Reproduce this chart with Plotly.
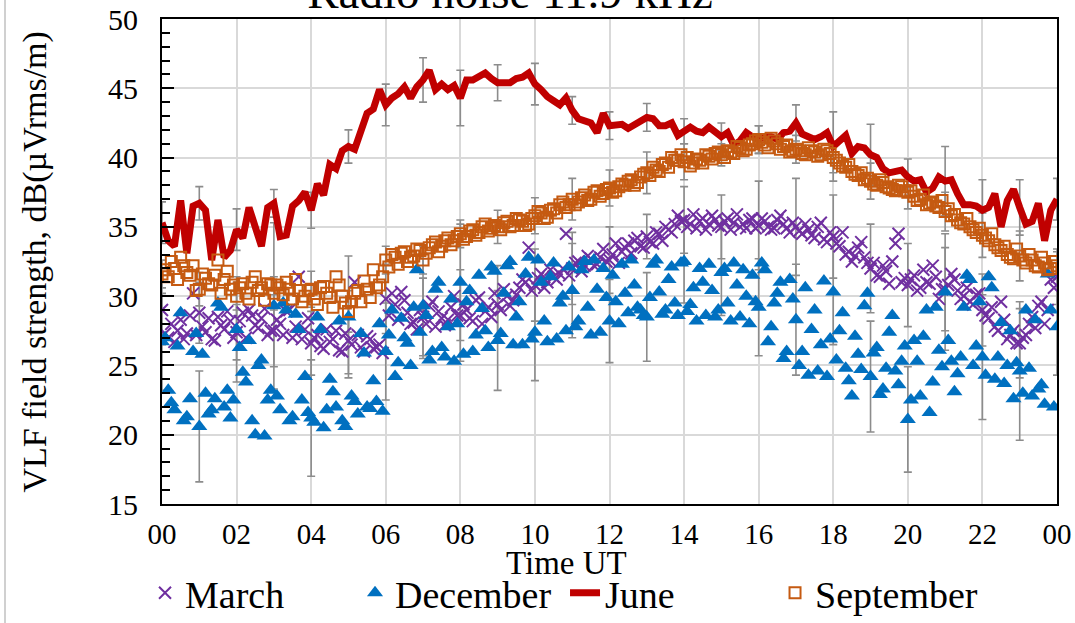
import plotly.graph_objects as go

# Time axis (hours UT). Main samples every 10 min; marker series also have
# readings at the 5-minute offsets in between.
time_min = list(range(0, 1441, 10))
time_h = [m / 60 for m in time_min]
offset_min = list(range(5, 1440, 10))
offset_h = [m / 60 for m in offset_min]

march = [29.0, 27.0, 26.7, 28.3, 27.3, 30.2, 28.8, 27.4, 26.9, 28.5, 27.6, 28.2,
         27.4, 28.8, 29.0, 27.9, 28.4, 27.2, 27.5, 28.0, 28.9, 27.0, 31.4, 27.6,
         26.6, 27.2, 26.2, 26.7, 27.5, 26.0, 26.8, 31.0, 26.3, 27.1, 26.2, 26.5,
         29.8, 30.2, 28.3, 29.7, 28.0, 27.6, 28.5, 29.3, 27.8, 28.4, 28.3, 30.0,
         28.6, 29.0, 28.2, 29.9, 28.9, 28.5, 29.4, 30.5, 29.3, 30.1, 31.2, 33.5,
         30.8, 31.6, 31.0, 31.4, 31.6, 34.5, 32.0, 32.5, 32.2, 32.7, 32.3, 33.4,
         32.6, 33.8, 33.2, 33.8, 34.0, 33.6, 34.3, 33.8, 34.5, 35.0, 34.6, 35.8,
         35.5, 35.2, 34.9, 35.6, 35.2, 35.5, 35.0, 35.6, 35.3, 35.0, 34.9, 35.6,
         35.1, 35.4, 34.8, 35.5, 35.2, 34.6, 35.0, 34.5, 34.8, 34.2, 35.3, 33.9,
         34.3, 33.6, 33.0, 32.5, 33.5, 32.8, 32.0, 31.5, 32.2, 30.9, 33.8, 31.0,
         30.8, 31.5, 30.6, 31.0, 32.2, 29.8, 30.5, 31.6, 30.4, 30.0, 29.6, 30.1,
         29.0, 28.4, 27.8, 29.6, 26.9, 27.5, 26.6, 27.2, 28.5, 29.3, 28.0, 31.2,
         31.4]
march_offset = [27.3, 28.0, 27.5, 26.9, 28.6, 27.2, 27.8, 28.4, 26.8, 27.9, 28.9, 27.0,
                28.2, 27.0, 28.6, 27.7, 29.1, 27.5, 28.3, 27.2, 29.0, 27.8, 26.9, 28.4,
                27.0, 26.4, 27.6, 26.9, 26.1, 27.3, 26.5, 27.2, 26.0, 26.9, 26.3, 25.9,
                28.6, 29.4, 30.3, 28.8, 28.1, 29.0, 28.0, 29.6, 28.9, 27.9, 29.2, 28.6,
                29.4, 28.4, 29.7, 28.0, 29.2, 30.2, 29.0, 30.0, 29.7, 30.6, 31.0, 30.4,
                31.3, 30.6, 31.9, 31.2, 32.0, 31.5, 32.4, 31.8, 32.9, 32.2, 32.8, 32.5,
                33.0, 32.4, 33.5, 33.1, 34.2, 33.5, 33.9, 34.6, 34.0, 34.8, 35.2, 35.4,
                35.0, 35.9, 35.4, 34.8, 35.8, 35.1, 35.4, 34.8, 35.9, 35.2, 35.5, 34.9,
                35.6, 35.0, 34.9, 35.8, 34.9, 35.3, 34.7, 35.2, 34.4, 35.0, 34.1, 34.6,
                33.8, 34.6, 33.2, 32.9, 33.9, 32.4, 32.4, 31.4, 31.8, 32.5, 34.5, 31.3,
                31.2, 30.4, 31.9, 30.9, 31.4, 30.5, 30.8, 31.2, 29.8, 30.6, 29.4, 30.2,
                28.6, 29.2, 27.5, 28.3, 27.2, 26.6, 27.0, 28.0, 27.7, 29.6, 29.0, 30.6]

december = [26.7, 23.2, 21.8, 28.8, 21.3, 26.0, 20.6, 23.0, 21.8, 29.5, 22.0, 21.2,
            27.6, 24.5, 26.8, 20.0, 25.4, 22.5, 29.3, 21.8, 29.0, 21.3, 27.6, 24.2,
            21.2, 28.5, 20.5, 24.0, 22.0, 21.0, 28.5, 22.4, 27.3, 22.0, 23.9, 28.0,
            26.0, 29.0, 25.2, 27.0, 25.0, 31.9, 29.3, 25.4, 30.5, 26.3, 27.8, 25.3,
            31.0, 29.6, 26.0, 31.5, 27.5, 32.1, 26.8, 30.2, 32.5, 28.5, 26.5, 32.8,
            27.4, 31.0, 26.7, 32.4, 29.5, 27.5, 30.4, 28.2, 32.5, 27.2, 30.5, 32.0,
            28.2, 29.6, 32.3, 28.8, 30.8, 29.0, 28.5, 32.3, 30.3, 29.0, 32.1, 28.6,
            32.5, 29.4, 28.2, 31.0, 32.3, 28.5, 31.7, 29.5, 32.4, 28.5, 30.0, 31.5,
            29.2, 31.9, 27.8, 30.2, 25.5, 31.2, 28.3, 26.0, 24.3, 29.0, 26.5, 24.2,
            30.3, 27.5, 24.8, 22.8, 25.8, 29.3, 24.2, 26.3, 23.3, 27.4, 24.6, 25.3,
            21.1, 26.8, 22.8, 29.0, 23.8, 26.1, 30.3, 25.3, 24.4, 29.2, 31.2, 26.4,
            25.6, 31.4, 24.0, 28.1, 25.0, 22.6, 24.6, 29.0, 22.8, 23.3, 22.2, 29.0,
            27.8]
december_offset = [27.0, 22.3, 26.4, 21.0, 22.6, 27.3, 25.8, 21.5, 22.6, 29.2, 23.2, 22.5,
                   26.3, 23.8, 21.0, 25.0, 19.9, 23.2, 22.8, 29.5, 21.0, 28.7, 22.5, 21.6,
                   20.9, 27.6, 21.8, 23.1, 28.2, 20.6, 22.8, 21.5, 25.9, 21.9, 22.4, 21.7,
                   27.2, 24.2, 28.4, 26.6, 29.2, 27.4, 28.6, 26.0, 31.0, 25.6, 29.8, 28.0,
                   25.8, 30.4, 27.2, 29.1, 26.3, 31.8, 27.3, 32.2, 26.5, 29.6, 31.6, 26.9,
                   32.6, 28.2, 31.4, 26.9, 30.0, 32.1, 27.8, 31.9, 29.2, 32.6, 27.4, 29.9,
                   31.5, 28.0, 30.2, 32.6, 29.2, 28.6, 29.9, 32.6, 28.7, 31.2, 29.5, 32.4,
                   28.9, 30.6, 32.0, 28.6, 30.4, 29.0, 32.0, 28.2, 30.8, 31.9, 28.0, 29.6,
                   32.4, 26.7, 29.5, 31.0, 26.0, 29.8, 25.0, 30.6, 27.6, 24.6, 31.1, 26.9,
                   25.4, 28.8, 23.9, 27.1, 24.7, 30.2, 25.9, 22.9, 24.8, 28.6, 23.6, 26.4,
                   22.5, 25.3, 27.1, 21.6, 29.2, 24.9, 26.8, 23.1, 25.6, 31.5, 25.0, 29.6,
                   24.3, 30.6, 25.6, 23.7, 27.5, 25.2, 23.0, 24.8, 28.3, 23.6, 31.6, 22.0]

june = [35.3, 34.0, 33.6, 36.9, 33.1, 36.5, 36.7, 36.2, 32.6, 35.5, 32.8, 33.3,
        34.8, 34.2, 36.4, 34.8, 33.6, 36.4, 36.7, 34.3, 34.4, 36.5, 36.9, 37.5,
        36.2, 38.1, 37.3, 39.5, 39.2, 40.5, 40.8, 40.6, 42.0, 43.2, 43.5, 44.9,
        43.8, 44.3, 44.6, 45.1, 44.3, 45.1, 45.6, 46.3, 44.9, 45.3, 44.9, 45.2,
        44.3, 45.6, 45.6, 45.8, 46.1, 45.7, 45.4, 45.4, 45.4, 45.7, 45.8, 46.1,
        45.3, 44.9, 44.4, 44.1, 43.8, 44.3, 43.4, 42.8, 42.7, 42.5, 41.8, 43.2,
        42.3, 42.3, 42.4, 42.1, 42.4, 42.7, 42.9, 42.8, 42.3, 42.3, 42.5, 41.6,
        41.9, 42.2, 41.9, 41.8, 42.2, 41.9, 41.5, 41.8, 40.9, 41.2, 41.8, 41.5,
        41.3, 41.5, 41.5, 41.3, 41.8, 41.9, 42.5, 41.7, 41.5, 41.3, 41.5, 41.8,
        40.8, 41.2, 41.6, 40.3, 40.8, 40.7, 40.2, 40.0, 39.2, 38.9, 39.0, 39.1,
        38.6, 38.3, 38.4, 37.5, 37.8, 38.6, 38.3, 38.4, 37.4, 36.6, 36.6, 36.5,
        36.2, 36.4, 37.4, 35.0, 36.9, 37.7, 36.4, 35.2, 35.4, 36.7, 34.0, 36.2,
        37.0]

september = [31.6, 31.4, 32.0, 32.8, 31.7, 32.2, 30.5, 31.3, 30.8, 32.6, 31.2, 30.5,
             30.0, 30.9, 29.8, 31.4, 30.6, 30.9, 30.2, 30.6, 31.0, 29.8, 30.4, 30.0,
             30.5, 29.4, 30.7, 29.9, 31.4, 30.0, 28.9, 30.2, 29.6, 30.5, 31.9, 30.8,
             32.6, 33.0, 32.3, 33.2, 32.8, 33.4, 32.6, 33.5, 33.9, 33.6, 34.2, 34.0,
             34.5, 34.3, 34.8, 34.6, 35.2, 34.9, 35.0, 35.3, 35.0, 35.6, 35.4, 35.2,
             35.8, 36.0, 35.7, 36.3, 36.6, 36.4, 37.0, 36.8, 37.3, 37.0, 37.6, 37.4,
             37.8, 37.6, 38.1, 38.3, 38.0, 38.6, 38.9, 39.3, 39.0, 39.6, 40.0, 39.8,
             39.7, 39.4, 39.9, 39.6, 40.1, 40.3, 40.2, 40.5, 40.3, 40.7, 40.6, 41.0,
             41.3, 40.9, 41.4, 41.0, 40.8, 40.4, 40.6, 40.3, 40.7, 40.4, 40.2, 40.5,
             40.0, 39.6, 39.3, 39.0, 38.7, 38.4, 38.3, 38.0, 38.2, 37.8, 37.6, 37.9,
             37.5, 37.2, 37.0, 36.6, 36.8, 36.4, 36.1, 35.8, 35.5, 35.2, 35.0, 34.6,
             34.4, 34.0, 33.7, 33.3, 33.0, 32.7, 32.9, 32.4, 32.6, 32.1, 32.4, 32.0,
             32.2]
september_offset = [31.9, 32.5, 31.2, 32.2, 31.5, 30.4, 31.6, 30.9, 31.5, 30.2, 31.8, 30.8,
                    30.6, 30.2, 31.0, 30.4, 29.7, 30.8, 30.8, 30.1, 30.5, 31.2, 29.6, 30.4,
                    29.8, 30.6, 30.2, 29.2, 30.8, 29.5, 29.6, 30.4, 31.1, 29.9, 30.6, 31.4,
                    32.1, 32.8, 33.1, 32.5, 32.9, 33.3, 33.1, 33.7, 33.2, 34.0, 33.7, 34.3,
                    34.1, 34.7, 34.4, 35.0, 34.7, 35.1, 34.8, 35.4, 35.1, 35.5, 35.1, 35.6,
                    36.1, 35.6, 36.2, 36.0, 36.8, 36.6, 36.6, 37.1, 36.9, 37.5, 37.2, 37.7,
                    37.5, 37.9, 38.0, 38.4, 38.2, 38.8, 38.7, 39.1, 39.5, 39.3, 39.8, 40.2,
                    40.0, 39.6, 39.8, 40.2, 39.9, 40.4, 40.0, 40.4, 40.8, 40.5, 40.9, 41.2,
                    41.1, 40.7, 41.2, 40.6, 40.9, 40.5, 40.5, 40.2, 40.5, 40.1, 40.6, 40.3,
                    39.8, 39.4, 39.5, 38.8, 38.9, 38.5, 38.1, 38.4, 37.9, 37.7, 38.0, 37.6,
                    37.6, 36.9, 37.3, 36.7, 36.5, 36.9, 36.3, 35.9, 35.3, 35.6, 34.8, 34.9,
                    34.2, 34.5, 33.5, 33.6, 32.8, 33.4, 32.6, 33.0, 32.2, 32.8, 31.9, 32.5]

# Hourly error-bar half-widths (00 ... 24 UT)
err_hours = list(range(0, 25))
march_err = [2.5, 2.2, 2.0, 2.6, 2.3, 2.4, 2.5, 2.8, 3.3, 2.8, 2.6, 2.6, 2.4,
             1.6, 2.4, 2.3, 3.2, 3.5, 3.0, 3.2, 3.0, 3.0, 2.6, 2.5, 2.0]
december_err = [3.5, 4.0, 3.8, 6.0, 4.2, 4.4, 3.5, 3.8, 4.2, 3.6, 3.5, 3.4, 3.0,
                3.2, 3.0, 3.1, 3.5, 4.0, 3.8, 4.0, 3.8, 4.2, 4.5, 5.0, 3.5]
june_err = [1.5, 1.2, 1.5, 1.0, 1.3, 1.2, 1.5, 1.6, 2.0, 1.3, 1.5, 1.0, 1.0,
            1.0, 0.9, 1.0, 1.0, 1.3, 2.5, 2.2, 1.3, 2.5, 2.2, 2.0, 1.5]
september_err = [1.0, 1.2, 1.0, 1.2, 1.3, 1.5, 1.0, 1.0, 1.0, 1.2, 1.3, 1.5, 1.3,
                 1.5, 1.3, 0.8, 1.0, 1.0, 1.1, 1.3, 1.2, 1.4, 1.6, 1.8, 1.0]

x_tick_vals = [0, 2, 4, 6, 8, 10, 12, 14, 16, 18, 20, 22, 24]
x_tick_text = ["00", "02", "04", "06", "08", "10", "12", "14", "16", "18", "20", "22", "00"]

FONT = "Liberation Serif"
ERR_COLOR = "#8c8c8c"

fig = go.Figure()

series = [
    ("March", march, march_err),
    ("December", december, december_err),
    ("June", june, june_err),
    ("September", september, september_err),
]

# error bars at each hour (drawn behind the data)
for name, vals, errs in series:
    centers = [vals[h * 6] for h in err_hours]
    fig.add_trace(go.Scatter(
        x=err_hours, y=centers, mode="markers",
        marker=dict(size=1, opacity=0),
        error_y=dict(type="data", array=errs, visible=True,
                     color=ERR_COLOR, thickness=1.6, width=4),
        showlegend=False, hoverinfo="skip"))

fig.add_trace(go.Scatter(
    x=time_h + offset_h, y=march + march_offset, mode="markers", name="March",
    marker=dict(symbol="x-thin-open", size=12, color="#7030A0",
                line=dict(color="#7030A0", width=2))))
fig.add_trace(go.Scatter(
    x=time_h + offset_h, y=december + december_offset, mode="markers", name="December",
    marker=dict(symbol="triangle-up", size=14, color="#0070C0",
                line=dict(width=0))))
fig.add_trace(go.Scatter(
    x=time_h, y=june, mode="lines", name="June",
    line=dict(color="#C00000", width=7)))
fig.add_trace(go.Scatter(
    x=time_h + offset_h, y=september + september_offset, mode="markers", name="September",
    marker=dict(symbol="square-open", size=11, color="#C55A11",
                line=dict(color="#C55A11", width=2))))

fig.update_layout(
    width=1075, height=623,
    margin=dict(l=162, r=18, t=19, b=119),
    paper_bgcolor="white", plot_bgcolor="white",
    font=dict(family=FONT, color="black"),
    title=dict(text="Radio noise 11.9 kHz", font=dict(family=FONT, size=47, color="black"),
               x=0.4744, xanchor="center", xref="container",
               y=0.987, yanchor="bottom", yref="container"),
    showlegend=True,
    legend=dict(orientation="h", x=0.5256, xanchor="center", xref="container",
                y=0.048, yanchor="middle", yref="container",
                font=dict(family=FONT, size=38, color="black"),
                bgcolor="rgba(0,0,0,0)", entrywidth=165, itemwidth=30),
)

fig.update_xaxes(
    range=[0, 24], tickvals=x_tick_vals, ticktext=x_tick_text,
    tickfont=dict(family=FONT, size=29, color="black"),
    showgrid=True, gridcolor="#d9d9d9", gridwidth=1.5,
    showline=True, linecolor="black", linewidth=2, mirror=True,
    ticks="", ticklabelstandoff=3, zeroline=False, automargin=False,
)
fig.update_yaxes(
    range=[15, 50], dtick=5, tick0=15,
    tickfont=dict(family=FONT, size=30, color="black"),
    showgrid=True, gridcolor="#d9d9d9", gridwidth=1.5,
    showline=True, linecolor="black", linewidth=2, mirror=True,
    ticks="inside", ticklen=12, tickwidth=2, tickcolor="black",
    minor=dict(dtick=1, ticks="inside", ticklen=8, tickwidth=2, tickcolor="black", showgrid=False),
    ticklabelstandoff=16, zeroline=False, automargin=False,
)

# axis titles placed as annotations to match the reference positions
fig.add_annotation(text="Time UT", xref="paper", yref="paper",
                   x=0.4525, y=-0.122, xanchor="center", yanchor="middle",
                   showarrow=False, font=dict(family=FONT, size=33, color="black"))
fig.add_annotation(text="VLF field strength, dB(µVrms/m)", xref="paper", yref="paper",
                   x=-0.1419, y=0.5, xanchor="center", yanchor="middle", textangle=-90,
                   showarrow=False, font=dict(family=FONT, size=34, color="black"))

fig.add_shape(type="line", xref="paper", yref="paper",
              x0=-0.1754, x1=-0.1754, y0=-0.3, y1=1.05,
              line=dict(color="#d0d0d0", width=2))

fig.write_html("out.html")
